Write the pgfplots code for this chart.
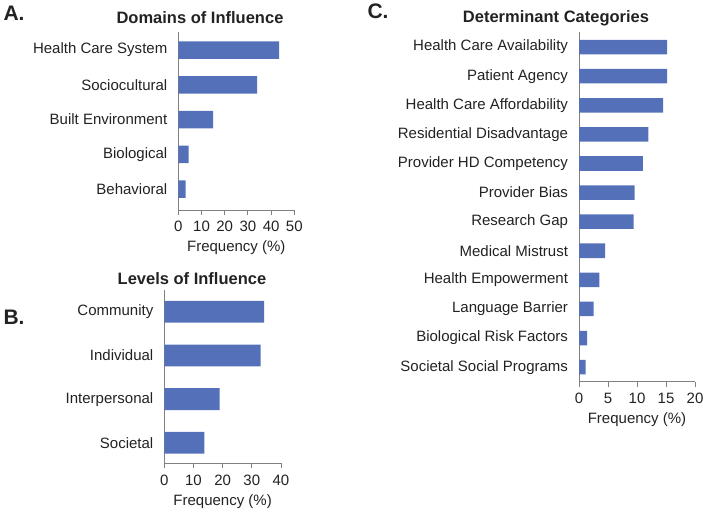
\documentclass[border=0pt]{standalone}
\usepackage{pgfplots}
\pgfplotsset{compat=1.18}
\usepackage{fontspec}
\setmainfont{Liberation Sans}
\definecolor{barblue}{RGB}{84,112,184}
\definecolor{axgray}{RGB}{128,128,128}
\definecolor{txt}{RGB}{34,34,34}
\pgfplotsset{
  panel/.style={
    scale only axis,
    xbar, bar width=0.5,
    axis x line*=bottom, axis y line*=left,
    axis line style={axgray, line width=0.9pt},
    x tick style={axgray, line width=0.9pt},
    major tick length=5bp,
    tick align=outside,
    ytick style={draw=none},
    ytick=data,
    xmin=0,
    font=\fontsize{15bp}{17bp}\selectfont\color{txt},
    tick label style={font=\fontsize{15bp}{17bp}\selectfont\color{txt}},
    /pgf/number format/assume math mode=true,
    xlabel={Frequency (\%)},
    xlabel style={font=\fontsize{15bp}{17bp}\selectfont\color{txt}, yshift=-2bp},
    yticklabel style={xshift=-2.5bp},
    xticklabel style={yshift=-3bp},
    clip=false,
  }
}
\begin{document}
\begin{tikzpicture}[x=1bp,y=1bp]
\useasboundingbox (0,0) rectangle (704,512);
% Panel A
\begin{axis}[panel, at={(178.3bp,302bp)}, anchor=south west,
  width=116bp, height=178bp, xmax=50, xtick={0,10,20,30,40,50},
  ymin=-0.6, ymax=4.52,
  yticklabels={Behavioral,Biological,Built Environment,Sociocultural,Health Care System}]
\addplot[fill=barblue, draw=none] coordinates {(3.2,0) (4.5,1) (15.0,2) (34.0,3) (43.5,4)};
\end{axis}
% Panel B
\begin{axis}[panel, at={(164.3bp,48.7bp)}, anchor=south west,
  width=116.7bp, height=173.3bp, xmax=40, xtick={0,10,20,30,40},
  ymin=-0.47, ymax=3.5,
  yticklabels={Societal,Interpersonal,Individual,Community}]
\addplot[fill=barblue, draw=none] coordinates {(13.7,0) (19.0,1) (33.0,2) (34.2,3)};
\end{axis}
% Panel C
\begin{axis}[panel, at={(579bp,130.3bp)}, anchor=south west,
  width=116bp, height=349.7bp, xmax=20, xtick={0,5,10,15,20},
  ymin=-0.5, ymax=11.52,
  yticklabels={Societal Social Programs,Biological Risk Factors,Language Barrier,Health Empowerment,Medical Mistrust,Research Gap,Provider Bias,Provider HD Competency,Residential Disadvantage,Health Care Affordability,Patient Agency,Health Care Availability}]
\addplot[fill=barblue, draw=none] coordinates {(1.15,0) (1.4,1) (2.5,2) (3.5,3) (4.5,4) (9.4,5) (9.6,6) (11.0,7) (11.95,8) (14.5,9) (15.2,10) (15.2,11)};
\end{axis}
% Titles
\node[font=\fontsize{16.5bp}{18bp}\selectfont\bfseries, text=txt] at (200,494) {Domains of Influence};
\node[font=\fontsize{16.5bp}{18bp}\selectfont\bfseries, text=txt] at (192,233) {Levels of Influence};
\node[font=\fontsize{16.5bp}{18bp}\selectfont\bfseries, text=txt] at (556,494) {Determinant Categories};
% Panel letters
\node[font=\fontsize{21bp}{22bp}\selectfont\bfseries, text=txt] at (14,499) {A.};
\node[font=\fontsize{21bp}{22bp}\selectfont\bfseries, text=txt] at (14,194.5) {B.};
\node[font=\fontsize{21bp}{22bp}\selectfont\bfseries, text=txt] at (378,501) {C.};
\end{tikzpicture}
\end{document}
